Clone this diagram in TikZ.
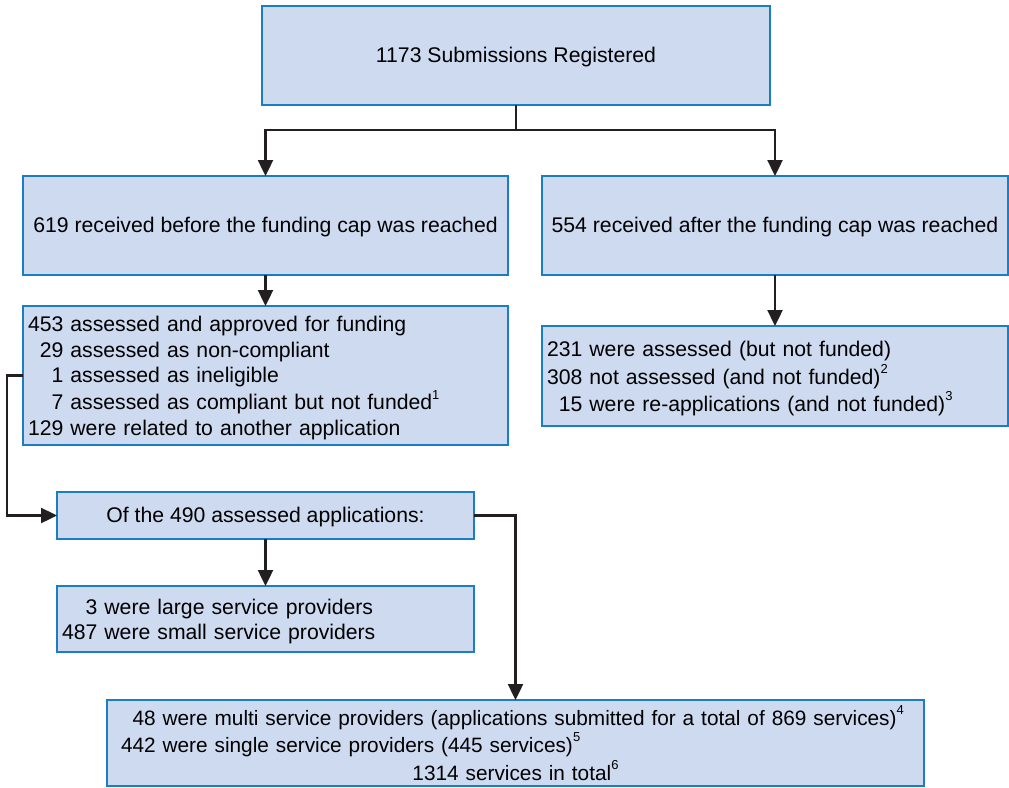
\documentclass[tikz,border=0pt]{standalone}
\usepackage{fontspec}
\setmainfont{Liberation Sans}
\usetikzlibrary{arrows.meta}
\definecolor{boxfill}{HTML}{CDDAF0}
\definecolor{boxline}{HTML}{1B7DC4}
\definecolor{conncol}{HTML}{231F20}
\newcommand\fnmark[1]{\raisebox{0.5em}{\fontsize{13}{13}\selectfont #1}}
\newcommand\lowered[1]{\raisebox{-3pt}[\height][\depth]{#1}}
\begin{document}
\begin{tikzpicture}[x=1pt,y=-1pt,
  box/.style={draw=boxline,fill=boxfill,line width=1.8pt,inner ysep=0pt,inner xsep=5pt,
    outer sep=0pt,anchor=north west,font=\fontsize{21.2}{25.5}\selectfont},
  oneline/.style={text depth=0.5pt},
  conn/.style={draw=conncol,line width=2.4pt,-{Triangle[length=16pt,width=15pt]}},
  plain/.style={draw=conncol,line width=2.4pt}]
\useasboundingbox (0,0) rectangle (1009,787);
\node[box,oneline,minimum width=508,minimum height=99] (top) at (262,6) {1173 Submissions Registered};
\node[box,oneline,minimum width=485,minimum height=99] (A) at (23,176) {619 received before the funding cap was reached};
\node[box,oneline,minimum width=466,minimum height=99] (B) at (542,176) {554 received after the funding cap was reached};
\node[box,minimum width=485,minimum height=139,text width=475,align=left] (C) at (23,306)
  {\lowered{\begin{tabular}{@{}r@{ }l@{}}
   453 & assessed and approved for funding\\
   29 & assessed as non-compliant\\
   1 & assessed as ineligible\\
   7 & assessed as compliant but not funded\fnmark{1}\\
   129 & were related to another application
   \end{tabular}}};
\node[box,minimum width=466,minimum height=100,text width=456,align=left] (D) at (542,326)
  {\lowered{\begin{tabular}{@{}r@{ }l@{}}
   231 & were assessed (but not funded)\\
   308 & not assessed (and not funded)\fnmark{2}\\
   15 & were re-applications (and not funded)\fnmark{3}
   \end{tabular}}};
\node[box,oneline,minimum width=417,minimum height=47] (E) at (57,492) {Of the 490 assessed applications:};
\node[box,minimum width=417,minimum height=66,text width=407,align=left] (F) at (57,586)
  {\lowered{\begin{tabular}{@{}r@{ }l@{}}
   3 & were large service providers\\
   487 & were small service providers
   \end{tabular}}};
\node[box,minimum width=817,minimum height=86,inner xsep=14pt,text width=789,align=left,
  font=\fontsize{20.8}{25.5}\selectfont] (G) at (107,700)
  {\begin{tabular}{@{}r@{ }l@{}}
   48 & were multi service providers (applications submitted for a total of 869 services)\fnmark{4}\\
   442 & were single service providers (445 services)\fnmark{5}
   \end{tabular}\\
   \makebox[\linewidth]{1314 services in total\fnmark{6}}};
\coordinate (split) at ([yshift=-25pt]top.south);
\draw[plain] (top.south) -- (split);
\draw[conn] (split) -| (A.north);
\draw[conn] (split) -| (B.north);
\draw[conn] (A) -- (C);
\draw[conn] (B) -- (D);
\draw[conn] (C.west) -- ++(-16,0) |- (E.west);
\draw[conn] (E) -- (F);
\draw[conn] (E.east) -| (G.north);
\end{tikzpicture}
\end{document}
